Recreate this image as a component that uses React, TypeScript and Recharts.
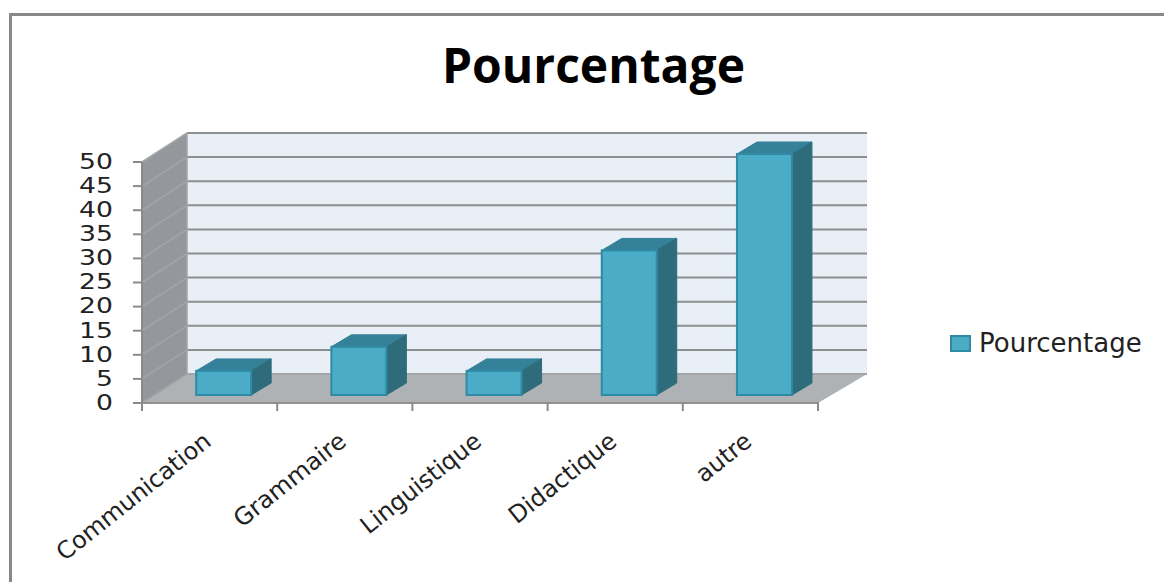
import { Bar, BarChart, Legend, ReferenceArea, XAxis, YAxis } from "recharts";

const categories = ["Communication", "Grammaire", "Linguistique", "Didactique", "autre"];
const pourcentage = [5, 10, 5, 30, 50];
const yTicks = [0, 5, 10, 15, 20, 25, 30, 35, 40, 45, 50];

const rows = categories.map((name, i) => ({ name, Pourcentage: pourcentage[i] }));

// fake 3D depth, in px
const WALL_DX = 45;
const WALL_DY = 29;
const BAR_SHIFT_X = 14;
const BAR_SHIFT_Y = 8;
const BAR_DX = 20;
const BAR_DY = 12;
const FONT = "'DejaVu Sans', sans-serif";

function Walls({ x, y, width, height }: any) {
  const bottom = y + height;
  const right = x + width;
  return (
    <g>
      <rect x={x + WALL_DX} y={y - WALL_DY} width={width + 4} height={height} fill="#e8eff6" />
      <polygon
        points={`${x},${y} ${x + WALL_DX},${y - WALL_DY} ${x + WALL_DX},${bottom - WALL_DY} ${x},${bottom}`}
        fill="#94989d"
      />
      <polygon
        points={`${x},${bottom} ${right},${bottom} ${right + WALL_DX + 4},${bottom - WALL_DY} ${x + WALL_DX},${bottom - WALL_DY}`}
        fill="#aeb2b5"
      />
      {/* grid lines run across the side wall and the back wall */}
      {yTicks.map((t) => {
        const ly = bottom - (t / 50) * height;
        return (
          <g key={t}>
            <line x1={x} y1={ly} x2={x + WALL_DX} y2={ly - WALL_DY} stroke="#a3a5a8" strokeWidth={1.5} />
            <line
              x1={x + WALL_DX}
              y1={ly - WALL_DY}
              x2={right + WALL_DX + 4}
              y2={ly - WALL_DY}
              stroke={t === 0 ? "#a3a5a8" : "#8e8f90"}
              strokeWidth={2}
            />
          </g>
        );
      })}
      <line x1={x + WALL_DX} y1={y - WALL_DY} x2={x + WALL_DX} y2={bottom - WALL_DY} stroke="#a3a5a8" strokeWidth={1.5} />
    </g>
  );
}

function Bar3D({ x, y, width, height }: any) {
  const l = x + BAR_SHIFT_X;
  const t = y - BAR_SHIFT_Y;
  const r = l + width;
  const b = t + height;
  return (
    <g>
      <polygon
        points={`${l},${t} ${l + BAR_DX},${t - BAR_DY} ${r + BAR_DX},${t - BAR_DY} ${r},${t}`}
        fill="#358199"
        stroke="#358199"
      />
      <polygon
        points={`${r},${t} ${r + BAR_DX},${t - BAR_DY} ${r + BAR_DX},${b - BAR_DY} ${r},${b}`}
        fill="#2e6c7c"
        stroke="#2e6c7c"
      />
      <rect x={l} y={t} width={width} height={height} fill="#4aacc6" stroke="#2f8aa3" strokeWidth={2} />
    </g>
  );
}

function CategoryTick({ x, y, payload, index }: any) {
  const half = payload.offset ?? 67.6;
  const tx = x + 3;
  const ty = y + 33;
  return (
    <g>
      <line x1={x - half} y1={y - 9} x2={x - half} y2={y} stroke="#8a8a8a" strokeWidth={2} />
      {index === categories.length - 1 && (
        <line x1={x + half} y1={y - 9} x2={x + half} y2={y} stroke="#8a8a8a" strokeWidth={2} />
      )}
      <text
        x={tx}
        y={ty}
        textAnchor="end"
        transform={`rotate(-38.5 ${tx} ${ty})`}
        fontFamily={FONT}
        fontSize={24}
        fill="#222"
      >
        {payload.value}
      </text>
    </g>
  );
}

// the reference's numbers are stretched sideways
function ValueTick({ y, payload }: any) {
  return (
    <text
      x={0}
      y={0}
      textAnchor="end"
      dominantBaseline="central"
      transform={`translate(113 ${y}) scale(1.3 1)`}
      fontFamily={FONT}
      fontSize={20.5}
      fill="#222"
    >
      {payload.value}
    </text>
  );
}

function LegendBox({ payload }: any) {
  return (
    <div style={{ display: "flex", alignItems: "center", fontFamily: FONT, fontSize: 26, color: "#222" }}>
      {(payload ?? []).map((item: any) => (
        <span key={item.value} style={{ display: "flex", alignItems: "center" }}>
          <span
            style={{
              width: 17,
              height: 13,
              marginRight: 8,
              background: "#4aacc6",
              border: "2px solid #2f8aa3",
            }}
          />
          {item.value}
        </span>
      ))}
    </div>
  );
}

export default function App() {
  return (
    <div style={{ position: "absolute", left: 0, top: 0, width: 1164, height: 582, overflow: "hidden", background: "#fff" }}>
      <div
        style={{
          position: "absolute",
          left: 9,
          top: 13,
          right: 0,
          bottom: 0,
          borderTop: "3px solid #888",
          borderLeft: "3px solid #888",
        }}
      />
      <div
        style={{
          position: "absolute",
          left: 0,
          top: 32,
          width: 1187,
          textAlign: "center",
          fontFamily: "'Open Sans', sans-serif",
          fontWeight: 700,
          fontSize: 48,
          lineHeight: "66px",
          color: "#000",
        }}
      >
        Pourcentage
      </div>
      <BarChart
        width={1164}
        height={582}
        data={rows}
        barCategoryGap="29.7%"
        margin={{ top: 162, right: 346, bottom: 0, left: 0 }}
        style={{ position: "absolute", left: 0, top: 0 }}
      >
        <ReferenceArea y1={0} y2={50} shape={<Walls />} fill="none" stroke="none" />
        <XAxis
          dataKey="name"
          interval={0}
          height={179}
          axisLine={{ stroke: "#8f9193", strokeWidth: 2 }}
          tickLine={false}
          tick={(p: any) => <CategoryTick {...p} />}
        />
        <YAxis
          domain={[0, 50]}
          ticks={yTicks}
          interval={0}
          width={142}
          axisLine={{ stroke: "#8a8a8a", strokeWidth: 2 }}
          tickLine={{ stroke: "#8a8a8a", strokeWidth: 2 }}
          tickSize={9}
          tick={(p: any) => <ValueTick {...p} />}
        />
        <Legend
          layout="vertical"
          verticalAlign="middle"
          align="center"
          content={<LegendBox />}
          wrapperStyle={{ left: 950, top: 328, width: 214 }}
        />
        <Bar dataKey="Pourcentage" isAnimationActive={false} fill="#4aacc6" shape={<Bar3D />} />
      </BarChart>
    </div>
  );
}
